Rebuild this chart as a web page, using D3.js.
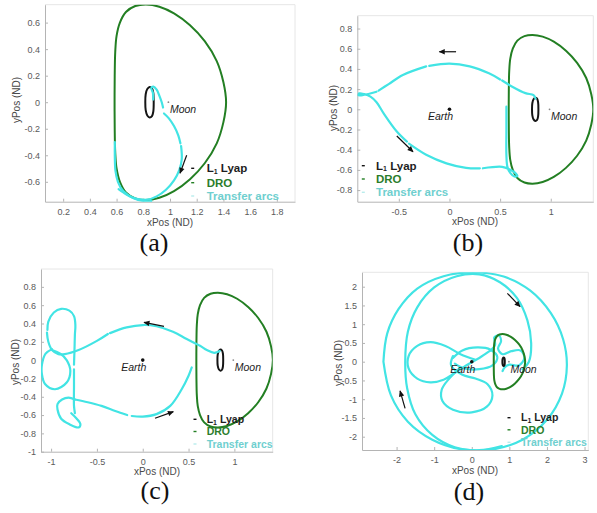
<!DOCTYPE html>
<html>
<head>
<meta charset="utf-8">
<script src="https://cdn.jsdelivr.net/npm/d3@7"></script>
<style>
  body { margin: 0; background: #fff; }
  svg { display: block; }
</style>
</head>
<body>
<svg id="fig" width="597" height="513"></svg>
<script>
// ---------- orbit data (non-dimensional rotating frame) ----------
const earthPos = [0, 0];
const moonPos = [0.988, 0];

// Distant retrograde orbit around the Moon
const droOrbit = [
  [0.585, 0.0], [0.586, 0.2], [0.59, 0.38], [0.6, 0.5], [0.625, 0.6], [0.67, 0.68],
  [0.74, 0.725], [0.82, 0.737], [0.92, 0.72], [1.03, 0.67], [1.15, 0.58], [1.26, 0.46],
  [1.35, 0.31], [1.40, 0.15], [1.42, 0.0], [1.40, -0.15], [1.35, -0.31], [1.26, -0.46],
  [1.15, -0.58], [1.03, -0.67], [0.92, -0.72], [0.82, -0.737], [0.74, -0.725],
  [0.67, -0.68], [0.625, -0.6], [0.6, -0.5], [0.59, -0.38], [0.586, -0.2]
];

// L1 Lyapunov orbit
const lyapOrbit = [
  [0.815, 0], [0.818, 0.06], [0.83, 0.1], [0.848, 0.115], [0.865, 0.105], [0.875, 0.07],
  [0.878, 0], [0.875, -0.07], [0.865, -0.105], [0.848, -0.115], [0.83, -0.1], [0.818, -0.06]
];

// Transfer arcs, one list of segments per case
const arcsA = [
  [[0.874, 0.02], [0.872, 0.07], [0.86, 0.108], [0.876, 0.118], [0.9, 0.095], [0.92, 0.05], [0.938, 0.0], [0.948, -0.04]],
  [[0.955, -0.085], [0.99, -0.12], [1.03, -0.18], [1.062, -0.25], [1.078, -0.31]],
  [[1.083, -0.33], [1.088, -0.43], [1.07, -0.51], [1.03, -0.59], [0.97, -0.66], [0.9, -0.71],
   [0.83, -0.735], [0.76, -0.73], [0.7, -0.71], [0.65, -0.68], [0.615, -0.655]],
  [[0.587, -0.3], [0.587, -0.42], [0.592, -0.52], [0.61, -0.6], [0.65, -0.67], [0.72, -0.72], [0.8, -0.745], [0.86, -0.745]]
];

const arcsB = [
  [[0.85, 0.105], [0.83, 0.14], [0.75, 0.16], [0.62, 0.224], [0.52, 0.285]],
  [[0.5, 0.295], [0.39, 0.356], [0.2, 0.425], [0.0, 0.452], [-0.2, 0.43]],
  [[-0.23, 0.425], [-0.46, 0.34], [-0.6, 0.25], [-0.7, 0.185]],
  [[-0.72, 0.174], [-0.85, 0.142], [-0.9, 0.14], [-0.89, 0.158], [-0.84, 0.15], [-0.78, 0.125],
   [-0.72, 0.07], [-0.65, -0.04], [-0.52, -0.22], [-0.42, -0.32]],
  [[-0.4, -0.34], [-0.23, -0.45], [-0.03, -0.535], [0.164, -0.58], [0.3, -0.585]],
  [[0.33, -0.584], [0.52, -0.57], [0.59, -0.594], [0.655, -0.635], [0.67, -0.66], [0.64, -0.665],
   [0.6, -0.63], [0.572, -0.57], [0.562, -0.45], [0.562, -0.2], [0.562, 0.026]]
];

const arcsC = [
  [[0.84, 0.1], [0.78, 0.08], [0.70, 0.11], [0.625, 0.157], [0.48, 0.23], [0.33, 0.31], [0.15, 0.37],
   [0.0, 0.383], [-0.175, 0.357], [-0.357, 0.295]],
  [[-0.38, 0.285], [-0.5, 0.21], [-0.7, 0.11], [-0.85, 0.066], [-0.92, 0.066], [-0.99, 0.11],
   [-1.03, 0.2], [-1.045, 0.3]],
  [[-1.04, 0.33], [-1.03, 0.42], [-0.97, 0.52], [-0.89, 0.56], [-0.8, 0.54], [-0.75, 0.48],
   [-0.735, 0.38], [-0.74, 0.28], [-0.745, 0.1], [-0.75, -0.05]],
  [[-0.75, -0.1], [-0.75, -0.3], [-0.75, -0.5], [-0.74, -0.58]],
  [[-0.99, 0.11], [-0.9, 0.07], [-0.83, 0.0], [-0.79, -0.117], [-0.83, -0.245], [-0.957, -0.318],
   [-1.066, -0.26], [-1.1, -0.153], [-1.1, -0.05], [-1.06, 0.07], [-0.99, 0.12]],
  [[-0.74, -0.43], [-0.81, -0.41], [-0.88, -0.43], [-0.93, -0.48], [-0.93, -0.54], [-0.89, -0.64],
   [-0.8, -0.7], [-0.7, -0.735], [-0.68, -0.7], [-0.72, -0.64], [-0.78, -0.58]],
  [[-0.74, -0.43], [-0.6, -0.46], [-0.45, -0.5], [-0.3, -0.555], [-0.17, -0.6]],
  [[-0.12, -0.61], [0.0, -0.617], [0.15, -0.59], [0.3, -0.5], [0.425, -0.318], [0.5, -0.17], [0.535, -0.08]]
];

const arcsD = [
  [[-2.35, 0.0], [-2.25, 0.75], [-1.95, 1.4], [-1.45, 1.95], [-0.75, 2.28], [0.05, 2.38], [0.85, 2.27],
   [1.55, 1.9], [2.1, 1.3], [2.43, 0.6], [2.53, -0.1], [2.4, -0.85], [2.0, -1.55], [1.35, -2.08],
   [0.55, -2.34], [-0.3, -2.33], [-1.05, -2.08], [-1.7, -1.6], [-2.15, -0.9], [-2.35, 0.0]],
  [[1.35, -0.2], [1.52, 0.0], [1.58, 0.5], [1.48, 1.1], [1.2, 1.7], [0.75, 2.12], [0.2, 2.33],
   [-0.4, 2.28], [-1.0, 1.98], [-1.45, 1.45], [-1.7, 0.8], [-1.77, 0.0], [-1.72, -0.7],
   [-1.5, -1.4], [-1.05, -1.95], [-0.45, -2.28], [0.2, -2.36], [0.8, -2.25]],
  [[0.1, 0.05], [-0.3, 0.2], [-0.7, 0.42], [-1.1, 0.52], [-1.45, 0.42], [-1.68, 0.15], [-1.68, -0.18],
   [-1.45, -0.45], [-1.1, -0.55], [-0.75, -0.48], [-0.45, -0.3], [-0.15, -0.1], [0.2, 0.1], [0.5, 0.3]],
  [[-0.3, -0.15], [-0.6, -0.45], [-0.8, -0.75], [-0.78, -1.05], [-0.5, -1.28], [0.0, -1.35], [0.4, -1.2],
   [0.55, -0.9], [0.42, -0.6], [0.1, -0.45], [-0.25, -0.35], [-0.55, -0.1], [-0.5, 0.15]],
  [[-0.5, 0.1], [-0.25, 0.3], [0.15, 0.38], [0.5, 0.32], [0.68, 0.12], [0.55, -0.1], [0.2, -0.2],
   [-0.2, -0.18], [-0.45, -0.05]],
  [[0.5, 0.3], [0.62, 0.45], [0.6, 0.65], [0.72, 0.7], [0.78, 0.55], [0.7, 0.35], [0.82, 0.2], [1.05, 0.28],
   [1.3, 0.3], [1.4, 0.1], [1.25, -0.1], [1.0, -0.08], [0.88, -0.15], [0.82, -0.25]]
];

// Direction-of-motion arrows: [tail, head]
const arrowsA = [[[1.125, -0.4], [1.075, -0.535]]];
const arrowsB = [[[0.065, 0.57], [-0.1, 0.57]], [[-0.52, -0.264], [-0.36, -0.42]]];
const arrowsC = [[[0.232, 0.368], [0.014, 0.412]], [[0.134, -0.635], [0.334, -0.563]]];
const arrowsD = [[[0.947, 1.824], [1.285, 1.467]], [[-1.774, -1.243], [-1.907, -0.78]]];

// Axis ticks
const xTicksA = [0.2, 0.4, 0.6, 0.8, 1, 1.2, 1.4, 1.6, 1.8];
const yTicksA = [-0.6, -0.4, -0.2, 0, 0.2, 0.4, 0.6];
const xTicksB = [-0.5, 0, 0.5, 1];
const yTicksB = [-0.8, -0.6, -0.4, -0.2, 0, 0.2, 0.4, 0.6, 0.8];
const xTicksC = [-1, -0.5, 0, 0.5, 1];
const yTicksC = [-1, -0.8, -0.6, -0.4, -0.2, 0, 0.2, 0.4, 0.6, 0.8];
const xTicksD = [-2, -1, 0, 1, 2, 3];
const yTicksD = [-2, -1.5, -1, -0.5, 0, 0.5, 1, 1.5, 2];

const legendNames = ["Lyap", "DRO", "Transfer arcs"];
const captions = ["(a)", "(b)", "(c)", "(d)"];

// ---------- styling ----------
const SANS = "'Liberation Sans', Arial, Helvetica, sans-serif";
const SERIF = "'Liberation Serif', 'Times New Roman', serif";
const COL_DRO = "#237f23";
const COL_LYAP = "#151515";
const COL_ARC = "#42e4e4";
const COL_AXIS = "#b4b4b4";
const COL_TICKTXT = "#5a5a5a";

const svg = d3.select("#fig");
const defs = svg.append("defs");
defs.append("marker")
  .attr("id", "arrowHead")
  .attr("viewBox", "0 0 10 10")
  .attr("refX", 9).attr("refY", 5)
  .attr("markerUnits", "userSpaceOnUse")
  .attr("markerWidth", 7).attr("markerHeight", 6)
  .attr("orient", "auto")
  .append("path").attr("d", "M0,0.5 L10,5 L0,9.5 Z").attr("fill", "#111");

// ---------- panel layouts ----------
const panels = [
  { id: "a", left: 45, right: 295, top: 4.7, bottom: 201.7,
    xDomain: [0.064, 1.936], yDomain: [-0.75, 0.735],
    xTicks: xTicksA, yTicks: yTicksA, arcs: arcsA, arrows: arrowsA,
    showEarth: false, droOnTop: false,
    xLabel: [170, 225.5], yLabel: [16, 100], caption: [154, 251],
    legend: { mx: 192.7, tx: 206.7, rows: [168.3, 182.7, 196], size: 11.5 } },
  { id: "b", left: 357.3, right: 593.3, top: 15.7, bottom: 201.7,
    xDomain: [-0.91, 1.42], yDomain: [-0.915, 0.927],
    xTicks: xTicksB, yTicks: yTicksB, arcs: arcsB, arrows: arrowsB,
    showEarth: true, droOnTop: false,
    xLabel: [475, 225], yLabel: [333, 108], caption: [468, 251],
    legend: { mx: 363.3, tx: 376, rows: [165.7, 179, 192.3], size: 11.5 } },
  { id: "c", left: 41, right: 272.7, top: 269, bottom: 451.7,
    xDomain: [-1.11, 1.418], yDomain: [-1.0, 0.995],
    xTicks: xTicksC, yTicks: yTicksC, arcs: arcsC, arrows: arrowsC,
    showEarth: true, droOnTop: false,
    xLabel: [157, 474.5], yLabel: [15, 362], caption: [155, 499],
    legend: { mx: 195, tx: 206.7, rows: [419.3, 431.5, 444], size: 10.5 } },
  { id: "d", left: 362, right: 588.3, top: 272.3, bottom: 450,
    xDomain: [-2.92, 3.1], yDomain: [-2.355, 2.384],
    xTicks: xTicksD, yTicks: yTicksD, arcs: arcsD, arrows: arrowsD,
    showEarth: true, droOnTop: true,
    xLabel: [475, 473.5], yLabel: [338, 363], caption: [469, 500],
    legend: { mx: 509, tx: 521, rows: [417.7, 429.8, 442.3], size: 10.5 } }
];

function drawPanel(p, idx) {
  const g = svg.append("g").attr("class", "panel-" + p.id);
  const x = d3.scaleLinear().domain(p.xDomain).range([p.left, p.right]);
  const y = d3.scaleLinear().domain(p.yDomain).range([p.bottom, p.top]);

  // light box on the top and right sides
  g.append("path")
    .attr("d", `M${p.left},${p.top}H${p.right}V${p.bottom}`)
    .attr("fill", "none").attr("stroke", "#e6e6e6").attr("stroke-width", 1);

  const fmt = d => String(d);
  const xAxis = d3.axisBottom(x).tickValues(p.xTicks).tickFormat(fmt)
    .tickSizeInner(-3).tickSizeOuter(0).tickPadding(6.5);
  const yAxis = d3.axisLeft(y).tickValues(p.yTicks).tickFormat(fmt)
    .tickSizeInner(-3).tickSizeOuter(0).tickPadding(5);

  const gx = g.append("g").attr("transform", `translate(0,${p.bottom})`).call(xAxis);
  const gy = g.append("g").attr("transform", `translate(${p.left},0)`).call(yAxis);
  [gx, gy].forEach(a => {
    a.select(".domain").attr("stroke", COL_AXIS);
    a.selectAll(".tick line").attr("stroke", COL_AXIS);
    a.selectAll(".tick text").attr("fill", COL_TICKTXT)
      .style("font-family", SANS).style("font-size", "9px");
  });

  // axis titles
  g.append("text").attr("x", p.xLabel[0]).attr("y", p.xLabel[1])
    .attr("text-anchor", "middle").attr("fill", "#4a4a4a")
    .style("font-family", SANS).style("font-size", "10px").text("xPos (ND)");
  g.append("text")
    .attr("transform", `translate(${p.yLabel[0]},${p.yLabel[1]}) rotate(-90)`)
    .attr("text-anchor", "middle").attr("dy", "0.35em").attr("fill", "#4a4a4a")
    .style("font-family", SANS).style("font-size", "10px").text("yPos (ND)");

  // plot area clip
  const clipId = "clip-" + p.id;
  defs.append("clipPath").attr("id", clipId)
    .append("rect").attr("x", p.left).attr("y", p.top)
    .attr("width", p.right - p.left).attr("height", p.bottom - p.top);
  const plot = g.append("g").attr("clip-path", `url(#${clipId})`);

  const closedLine = d3.line().x(d => x(d[0])).y(d => y(d[1])).curve(d3.curveCatmullRomClosed);
  const openLine = d3.line().x(d => x(d[0])).y(d => y(d[1])).curve(d3.curveCatmullRom.alpha(0.5));

  const drawDro = () => plot.append("path").attr("d", closedLine(droOrbit))
    .attr("fill", "none").attr("stroke", COL_DRO).attr("stroke-width", 2);
  const drawLyap = () => plot.append("path").attr("d", closedLine(lyapOrbit))
    .attr("fill", "none").attr("stroke", COL_LYAP).attr("stroke-width", 2);
  const drawArcs = () => plot.selectAll(null).data(p.arcs).enter().append("path")
    .attr("d", openLine).attr("fill", "none").attr("stroke", COL_ARC)
    .attr("stroke-width", 2.2).attr("stroke-linecap", "round").attr("stroke-linejoin", "round");

  if (p.droOnTop) { drawArcs(); drawDro(); drawLyap(); }
  else { drawDro(); drawLyap(); drawArcs(); }

  // Earth and Moon markers
  if (p.showEarth) {
    plot.append("circle").attr("cx", x(earthPos[0])).attr("cy", y(earthPos[1]))
      .attr("r", 1.8).attr("fill", "#111");
    g.append("text").attr("x", x(earthPos[0]) - 9).attr("y", y(earthPos[1]) + 11)
      .attr("text-anchor", "middle").attr("fill", "#1c1c1c")
      .style("font-family", SANS).style("font-style", "italic").style("font-size", "10.5px")
      .text("Earth");
  }
  plot.append("circle").attr("cx", x(moonPos[0])).attr("cy", y(moonPos[1]))
    .attr("r", 0.9).attr("fill", "#888");
  g.append("text").attr("x", x(moonPos[0]) + 1.5).attr("y", y(moonPos[1]) + 11)
    .attr("fill", "#1c1c1c")
    .style("font-family", SANS).style("font-style", "italic").style("font-size", "10.5px")
    .text("Moon");

  // direction arrows
  g.selectAll(null).data(p.arrows).enter().append("line")
    .attr("x1", d => x(d[0][0])).attr("y1", d => y(d[0][1]))
    .attr("x2", d => x(d[1][0])).attr("y2", d => y(d[1][1]))
    .attr("stroke", "#111").attr("stroke-width", 1.2)
    .attr("marker-end", "url(#arrowHead)");

  // legend
  const L = p.legend;
  const legendColors = [COL_LYAP, COL_DRO, "#b8ecec"];
  const legendText = ["#1e1e1e", "#2b7d2b", "#6fcfcf"];
  L.rows.forEach((ry, i) => {
    g.append("line").attr("x1", L.mx - 1.5).attr("x2", L.mx + 1.5)
      .attr("y1", ry).attr("y2", ry)
      .attr("stroke", legendColors[i]).attr("stroke-width", 1.4);
    const t = g.append("text").attr("x", L.tx).attr("y", ry).attr("dy", "0.36em")
      .attr("fill", legendText[i])
      .style("font-family", SANS).style("font-weight", "bold").style("font-size", L.size + "px");
    if (i === 0) {
      t.append("tspan").text("L");
      t.append("tspan").attr("dy", 1.5).style("font-size", "7px").text("1");
      t.append("tspan").attr("dy", -1.5).text(" " + legendNames[0]);
    } else {
      t.text(legendNames[i]);
    }
  });

  // panel caption
  svg.append("text").attr("x", p.caption[0]).attr("y", p.caption[1])
    .attr("text-anchor", "middle").attr("fill", "#111")
    .style("font-family", SERIF).style("font-size", "26px")
    .text(captions[idx]);
}

panels.forEach(drawPanel);
</script>
</body>
</html>
